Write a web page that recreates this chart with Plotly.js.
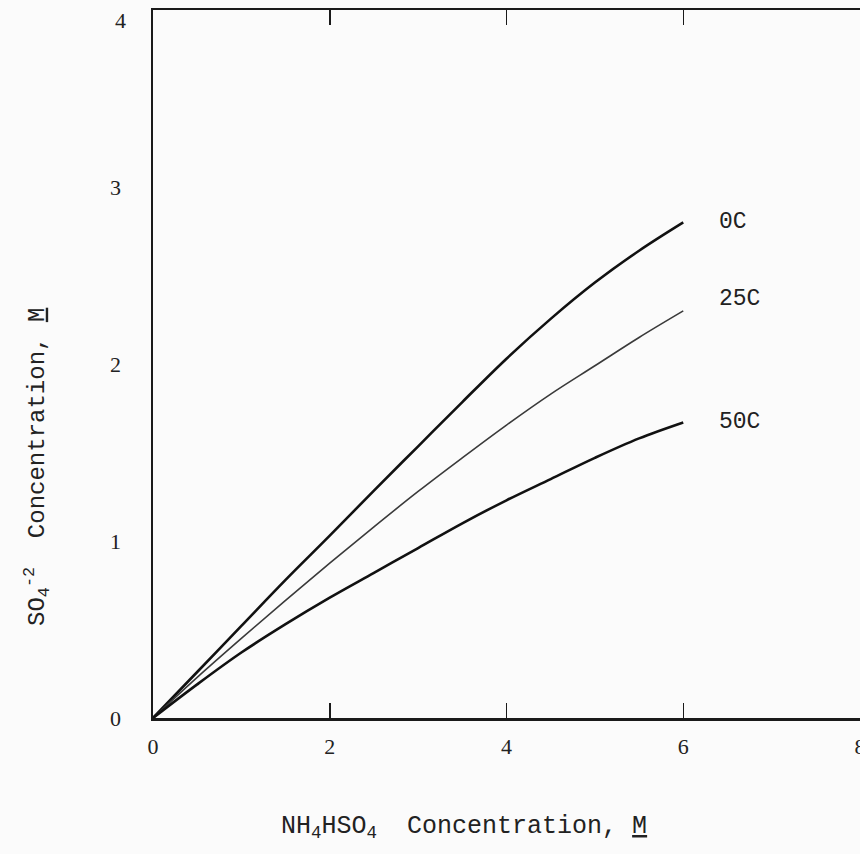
<!DOCTYPE html>
<html>
<head>
<meta charset="utf-8">
<script src="https://cdn.plot.ly/plotly-3.0.1.min.js"></script>
<style>html,body{margin:0;padding:0;background:#fbfbfb;}</style>
</head>
<body>
<div id="chart" style="width:860px;height:854px;"></div>
<script>
// NH4HSO4 concentration (M)
const xConc = [0, 0.5, 1, 1.5, 2, 2.5, 3, 3.5, 4, 4.5, 5, 5.5, 6];
// SO4-2 concentration (M) per temperature
const so4_0C  = [0, 0.26, 0.52, 0.78, 1.03, 1.285, 1.535, 1.785, 2.03, 2.255, 2.46, 2.64, 2.80];
const so4_25C = [0, 0.23, 0.45, 0.665, 0.875, 1.08, 1.28, 1.47, 1.655, 1.83, 1.99, 2.15, 2.30];
const so4_50C = [0, 0.19, 0.37, 0.53, 0.68, 0.82, 0.96, 1.10, 1.23, 1.35, 1.47, 1.58, 1.67];
const seriesNames = ['0C', '25C', '50C'];
const xTicks = [0, 2, 4, 6, 8];
const yTicks = [0, 1, 2, 3, 4];
const yTickText = ['0', '1', '2', '3', ''];   // top label "4" drawn as annotation below the frame edge
const yTopLabel = '4';

const mono = 'Liberation Mono, Courier New, monospace';
const serif = 'Liberation Serif, Times New Roman, serif';

const traces = [
  {x: xConc, y: so4_0C,  name: seriesNames[0], mode: 'lines', line: {color: '#111', width: 2.6, shape: 'spline', smoothing: 1}},
  {x: xConc, y: so4_25C, name: seriesNames[1], mode: 'lines', line: {color: '#3a3a3a', width: 1.6, shape: 'spline', smoothing: 1}},
  {x: xConc, y: so4_50C, name: seriesNames[2], mode: 'lines', line: {color: '#111', width: 2.6, shape: 'spline', smoothing: 1}}
];

const labelY = [2.80, 2.37, 1.67];

const layout = {
  width: 860, height: 854,
  margin: {l: 153, r: 0, t: 10, b: 136},
  paper_bgcolor: '#fbfbfb', plot_bgcolor: '#fbfbfb',
  showlegend: false,
  xaxis: {
    range: [0, 8], tickvals: xTicks, ticktext: xTicks.map(String),
    showgrid: false, zeroline: false,
    showline: true, linecolor: '#1a1a1a', linewidth: 2.5, mirror: 'allticks',
    ticks: 'inside', ticklen: 15, tickwidth: 1.5, tickcolor: '#1a1a1a',
    tickfont: {family: serif, size: 22, color: '#222'},
    ticklabelstandoff: 7, ticklabeloverflow: 'allow'
  },
  yaxis: {
    range: [0, 4], tickvals: yTicks, ticktext: yTickText,
    showgrid: false, zeroline: false,
    showline: true, linecolor: '#1a1a1a', linewidth: 2.5, mirror: true,
    ticks: '',
    tickfont: {family: serif, size: 22, color: '#222'},
    ticklabelstandoff: 25, ticklabeloverflow: 'allow'
  },
  yaxis2: {
    range: [0, 4], overlaying: 'y', side: 'right',
    tickvals: [1, 2, 3], showticklabels: false,
    showgrid: false, zeroline: false, showline: false,
    ticks: 'inside', ticklen: 13, tickwidth: 1.5, tickcolor: '#1a1a1a'
  },
  annotations: [
    {xref: 'paper', yref: 'y', x: 0, y: yTicks[yTicks.length - 1], xanchor: 'right', yanchor: 'middle',
     xshift: -25, yshift: -10, showarrow: false, text: yTopLabel,
     font: {family: serif, size: 22, color: '#222'}},
    {xref: 'paper', yref: 'paper', x: 0.44, y: -0.155, xanchor: 'center', yanchor: 'middle', showarrow: false,
     text: 'NH<sub>4</sub>HSO<sub>4</sub>  Concentration, <u>M</u>',
     font: {family: mono, size: 25, color: '#222'}},
    {xref: 'paper', yref: 'paper', x: -0.165, y: 0.355, xanchor: 'center', yanchor: 'middle', showarrow: false,
     textangle: -90,
     text: 'SO<sub>4</sub><sup>-2</sup>  Concentration, <u>M</u>',
     font: {family: mono, size: 24, color: '#222'}}
  ].concat(seriesNames.map((n, i) => ({
     xref: 'x', yref: 'y', x: 6.38, y: labelY[i], xanchor: 'left', yanchor: 'middle', showarrow: false,
     text: n, font: {family: mono, size: 23, color: '#222'}
  })))
};

Plotly.newPlot('chart', traces, layout, {displayModeBar: false, staticPlot: true});
</script>
</body>
</html>
